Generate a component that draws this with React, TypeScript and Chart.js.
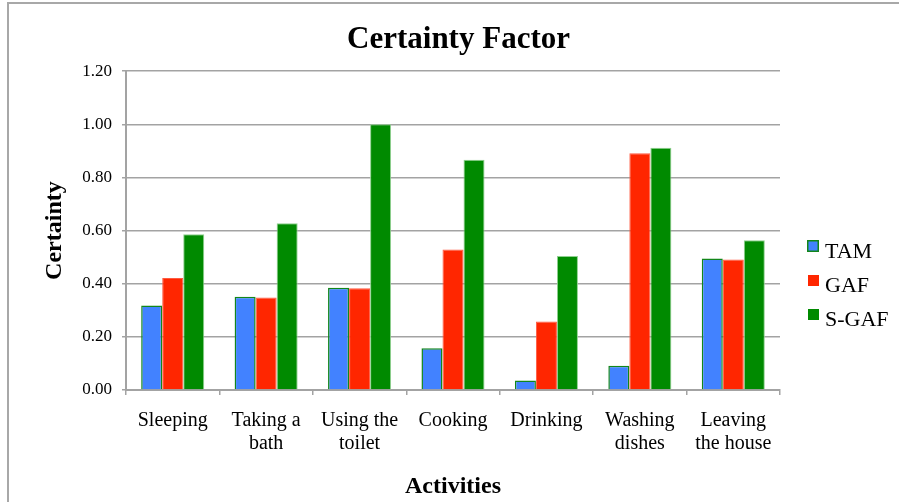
import React, { useEffect, useRef } from "react";
import { Chart, registerables } from "chart.js";

Chart.register(...registerables);

const categories: string[][] = [
  ["Sleeping"],
  ["Taking a", "bath"],
  ["Using the", "toilet"],
  ["Cooking"],
  ["Drinking"],
  ["Washing", "dishes"],
  ["Leaving", "the house"],
];
const seriesNames = ["TAM", "GAF", "S-GAF"];
const tam = [0.318, 0.351, 0.385, 0.157, 0.036, 0.091, 0.495];
const gaf = [0.422, 0.348, 0.383, 0.529, 0.258, 0.891, 0.491];
const sgaf = [0.586, 0.628, 1.0, 0.867, 0.504, 0.912, 0.564];
const yTicks = [0, 0.2, 0.4, 0.6, 0.8, 1.0, 1.2];

const FONT = "'Liberation Serif', 'Times New Roman', serif";
const GRID = "#a3a3a3";

const legendPlugin = {
  id: "customLegend",
  afterDraw(chart: any) {
    const ctx = chart.ctx as CanvasRenderingContext2D;
    ctx.save();
    chart.data.datasets.forEach((ds: any, i: number) => {
      const top = 240 + i * 34;
      ctx.fillStyle = ds.backgroundColor;
      if (i === 0) {
        ctx.fillRect(807, top, 12, 12);
        ctx.strokeStyle = ds.borderColor;
        ctx.lineWidth = 1.5;
        ctx.strokeRect(807.75, top + 0.75, 10.5, 10.5);
      } else {
        ctx.fillRect(808, top + 1, 11, 11);
      }
      ctx.fillStyle = "#000";
      ctx.font = `22px ${FONT}`;
      ctx.textBaseline = "alphabetic";
      ctx.textAlign = "left";
      ctx.fillText(ds.label, 825, top + 18);
    });
    ctx.restore();
  },
};

export default function App() {
  const ref = useRef<HTMLCanvasElement | null>(null);

  useEffect(() => {
    if (!ref.current) return;
    const chart = new Chart(ref.current, {
      type: "bar",
      data: {
        labels: categories,
        datasets: [
          {
            label: seriesNames[0],
            data: tam,
            backgroundColor: "#4282ff",
            borderColor: "#12861a",
            borderWidth: 1.5,
          },
          {
            label: seriesNames[1],
            data: gaf,
            backgroundColor: "#ff2600",
            borderColor: "#ff5a40",
            borderWidth: 1,
          },
          {
            label: seriesNames[2],
            data: sgaf,
            backgroundColor: "#008a00",
            borderColor: "#8fd08f",
            borderWidth: 1,
          },
        ],
      },
      options: {
        animation: false,
        responsive: false,
        maintainAspectRatio: false,
        layout: { padding: { left: 18, right: 0, top: 0, bottom: 0 } },
        datasets: {
          bar: { categoryPercentage: 0.675, barPercentage: 1 },
        },
        plugins: {
          legend: { display: false },
          tooltip: { enabled: false },
          title: {
            display: true,
            text: "Certainty Factor",
            color: "#000",
            font: { family: FONT, size: 31, weight: "bold", lineHeight: 1.2 },
            padding: { top: 21, bottom: 13 },
          },
        },
        scales: {
          x: {
            offset: true,
            grid: {
              display: true,
              drawOnChartArea: false,
              offset: true,
              color: GRID,
              lineWidth: 1.5,
              tickLength: 5,
            },
            border: { display: true, color: GRID, width: 2 },
            ticks: {
              color: "#000",
              font: { family: FONT, size: 20, lineHeight: 1.15 },
              padding: 14,
              maxRotation: 0,
              autoSkip: false,
            },
            title: {
              display: true,
              text: "Activities",
              color: "#000",
              font: { family: FONT, size: 24, weight: "bold", lineHeight: 1.2 },
              padding: { top: 0, bottom: 1 },
            },
            afterFit: (s: any) => {
              s.height = 112;
            },
          },
          y: {
            min: 0,
            max: 1.2,
            afterBuildTicks: (s: any) => {
              s.ticks = yTicks.map((v) => ({ value: v }));
            },
            grid: { color: GRID, lineWidth: 1.5, tickLength: 4 },
            border: { display: true, color: GRID, width: 2 },
            ticks: {
              color: "#000",
              font: { family: FONT, size: 17 },
              padding: 10,
              callback: (v: any) => Number(v).toFixed(2),
            },
            title: {
              display: true,
              text: "Certainty",
              color: "#000",
              font: { family: FONT, size: 24, weight: "bold", lineHeight: 1.2 },
              padding: { top: 22, bottom: 0 },
            },
            afterFit: (s: any) => {
              s.width = 108;
            },
          },
          yRight: {
            type: "linear",
            position: "right",
            display: true,
            grid: { display: false },
            border: { display: false },
            ticks: { display: false },
            afterFit: (s: any) => {
              s.width = 119;
            },
          },
        },
      },
      plugins: [legendPlugin],
    } as any);
    return () => chart.destroy();
  }, []);

  return (
    <div
      style={{
        position: "fixed",
        left: 0,
        top: 0,
        width: 899,
        height: 502,
        overflow: "hidden",
        background: "#fff",
      }}
    >
      <div
        style={{
          position: "absolute",
          left: 7,
          top: 2,
          width: 1000,
          height: 600,
          borderLeft: "2px solid #a8a8a8",
          borderTop: "2px solid #a8a8a8",
          boxSizing: "border-box",
        }}
      />
      <canvas
        ref={ref}
        width={899}
        height={502}
        style={{ position: "absolute", left: 0, top: 0, width: 899, height: 502 }}
      />
    </div>
  );
}
